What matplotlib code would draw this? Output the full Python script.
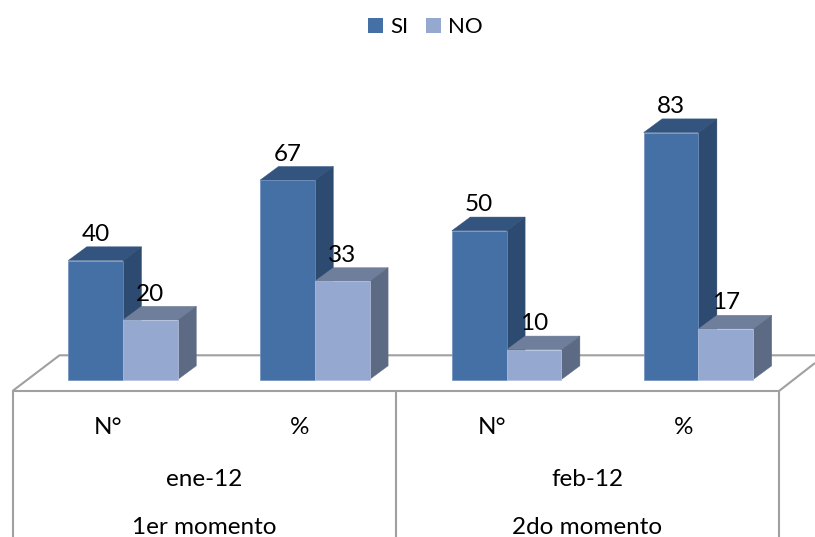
import matplotlib
matplotlib.use("Agg")
import matplotlib.pyplot as plt
from matplotlib.patches import Patch, Polygon

# Datos de la encuesta
series_names = ["SI", "NO"]
si_values = [40, 67, 50, 83]
no_values = [20, 33, 10, 17]
units = ["N°", "%", "N°", "%"]
months = ["ene-12", "feb-12"]
moments = ["1er momento", "2do momento"]

SI_COLORS = {"front": "#4470A6", "top": "#33547F", "side": "#2D4A70", "edge": "#6F90BE"}
NO_COLORS = {"front": "#95A9D0", "top": "#6F7F9B", "side": "#5C6B83", "edge": "#B4C3DF"}
LINE_GRAY = "#A0A0A0"

plt.rcParams["font.family"] = ["Lato", "DejaVu Sans"]

# Escalas: 1 unidad x = una categoria, 1 unidad y = un valor del grafico
PX_X = 191.8
PX_Y = 2.975
BASE_PX = 379.5
CENTER0_PX = 123.0
WIDTH = 54.8 / PX_X
DX = 18.5 / PX_X
DY = 13.7 / PX_Y
LABEL_SHIFT = 15 / PX_X


def x_px(px):
    return (px - CENTER0_PX) / PX_X


def y_px(px):
    return (BASE_PX - px) / PX_Y


def draw_bars(ax, lefts, values, colors):
    ax.bar(lefts, values, width=WIDTH, align="edge", color=colors["front"],
           edgecolor=colors["edge"], linewidth=0.5, zorder=3)
    for left, value in zip(lefts, values):
        right = left + WIDTH
        top = [(left, value), (right, value), (right + DX, value + DY), (left + DX, value + DY)]
        side = [(right, 0), (right + DX, DY), (right + DX, value + DY), (right, value)]
        ax.add_patch(Polygon(top, closed=True, facecolor=colors["top"],
                             edgecolor=colors["top"], linewidth=0.3, zorder=2))
        ax.add_patch(Polygon(side, closed=True, facecolor=colors["side"],
                             edgecolor=colors["side"], linewidth=0.3, zorder=2))


fig = plt.figure(figsize=(8.15, 5.37), dpi=100)
ax = fig.add_axes([0, 0, 1, 1])
ax.set_xlim(x_px(0), x_px(815))
ax.set_ylim(y_px(537), y_px(0))
ax.axis("off")

# Piso y lineas de la tabla de categorias
line_kw = dict(color=LINE_GRAY, linewidth=1.5, solid_capstyle="butt", zorder=1)
ax.plot([x_px(12.5), x_px(59.5), x_px(815)], [y_px(391), y_px(355.3), y_px(355.3)], **line_kw)
ax.plot([x_px(12.5), x_px(779)], [y_px(391), y_px(391)], **line_kw)
ax.plot([x_px(779), x_px(815)], [y_px(391), y_px(363)], **line_kw)
for px in [12.5, 396, 779]:
    ax.plot([x_px(px), x_px(px)], [y_px(391), y_px(537)], **line_kw)

positions = list(range(len(si_values)))
draw_bars(ax, [p - WIDTH for p in positions], si_values, SI_COLORS)
draw_bars(ax, positions, no_values, NO_COLORS)

# Etiquetas de valor sobre cada barra
LABEL_OFFSET = 26 / PX_Y
for p, si, no in zip(positions, si_values, no_values):
    ax.text(p - WIDTH / 2, si + LABEL_OFFSET, str(si), ha="center", va="center",
            fontsize=17.5, color="black", zorder=6)
    ax.text(p + WIDTH / 2, no + LABEL_OFFSET, str(no), ha="center", va="center",
            fontsize=17.5, color="black", zorder=6)

# Etiquetas de categoria en tres niveles
for p, unit in zip(positions, units):
    ax.text(p - LABEL_SHIFT, y_px(427), unit, ha="center", va="center", fontsize=17.5)
for i, (month, moment) in enumerate(zip(months, moments)):
    center = 2 * i + 0.5 - LABEL_SHIFT
    ax.text(center, y_px(479), month, ha="center", va="center", fontsize=17.5)
    ax.text(center, y_px(527.5), moment, ha="center", va="center", fontsize=17.5)

handles = [Patch(facecolor=SI_COLORS["front"], label=series_names[0]),
           Patch(facecolor=NO_COLORS["front"], label=series_names[1])]
ax.legend(handles=handles, loc="center", bbox_to_anchor=(425.5 / 815, 1 - 27 / 537), ncol=2,
          frameon=False, fontsize=16, handlelength=0.675, handleheight=0.675,
          handletextpad=0.31, columnspacing=0.8, borderpad=0)

fig.savefig("out.png", dpi=100)
